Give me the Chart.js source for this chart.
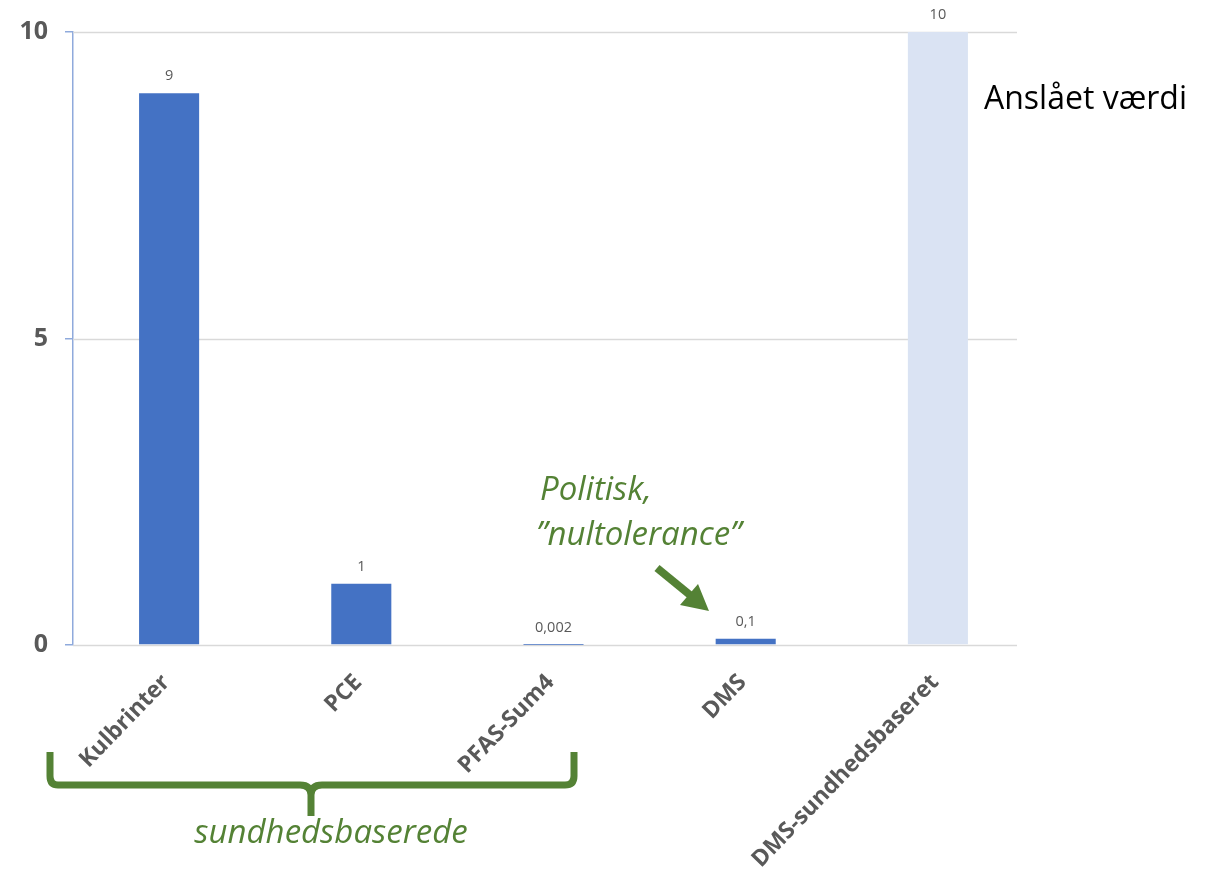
<!DOCTYPE html>
<html lang="da">
<head>
<meta charset="utf-8">
<title>Anslået værdi</title>
<script src="https://cdn.jsdelivr.net/npm/chart.js@4.4.1/dist/chart.umd.min.js"></script>
<style>
  html, body { margin: 0; padding: 0; background: #ffffff; }
  #wrap { position: relative; width: 1209px; height: 877px; }
</style>
</head>
<body>
<div id="wrap"><canvas id="chart" width="1209" height="877"></canvas></div>
<script>
// Kategorier og værdier
const categories = ['Kulbrinter', 'PCE', 'PFAS-Sum4', 'DMS', 'DMS-sundhedsbaseret'];
const values = [9, 1, 0.002, 0.1, 10];
const estimated = [false, false, false, false, true];
const yTicks = [0, 5, 10];

const FONT = '"Open Sans", "Liberation Sans", sans-serif';
const GREEN = '#548235';
const GREY_TEXT = '#595959';
const GRID = '#D9D9D9';
const AXIS_BLUE = '#8FAADC';

// Danske tal: komma som decimaltegn
const fmt = v => String(v).replace('.', ',');

// Vandrette hjælpelinjer, der stopper før det sidste felt
const gridPlugin = {
  id: 'shortGrid',
  beforeDatasetsDraw(chart) {
    const { ctx, chartArea, scales } = chart;
    const right = chartArea.left + 944;
    ctx.save();
    ctx.strokeStyle = GRID;
    ctx.lineWidth = 1.5;
    yTicks.forEach(t => {
      const y = Math.round(scales.y.getPixelForValue(t)) + 0.5;
      ctx.beginPath();
      ctx.moveTo(chartArea.left, y);
      ctx.lineTo(right, y);
      ctx.stroke();
    });
    ctx.restore();
  }
};

// Værdietiketter over søjlerne
const valueLabels = {
  id: 'valueLabels',
  afterDatasetsDraw(chart) {
    const { ctx } = chart;
    const meta = chart.getDatasetMeta(0);
    ctx.save();
    ctx.font = '14.5px ' + FONT;
    ctx.fillStyle = GREY_TEXT;
    ctx.textAlign = 'center';
    ctx.textBaseline = 'bottom';
    meta.data.forEach((bar, i) => {
      ctx.fillText(fmt(values[i]), bar.x, bar.y - 10);
    });
    ctx.restore();
  }
};

// Kommentarer: tuborgklamme, pil og tekster
const notes = {
  id: 'notes',
  afterDraw(chart) {
    const { ctx } = chart;
    ctx.save();

    // Forklaring til højre
    ctx.fillStyle = '#000000';
    ctx.font = '32px ' + FONT;
    ctx.textAlign = 'left';
    ctx.textBaseline = 'alphabetic';
    ctx.fillText('Anslået værdi', 984, 109);

    // Politisk nultolerance
    ctx.fillStyle = GREEN;
    ctx.font = 'italic 33px ' + FONT;
    ctx.fillText('Politisk,', 540, 500);
    ctx.fillText('\u201Dnultolerance\u201D', 536, 545);

    // Pil mod DMS
    ctx.strokeStyle = GREEN;
    ctx.lineWidth = 8;
    ctx.lineCap = 'butt';
    ctx.beginPath();
    ctx.moveTo(657, 568);
    ctx.lineTo(690, 595);
    ctx.stroke();
    ctx.beginPath();
    ctx.moveTo(709, 611);
    ctx.lineTo(680, 605);
    ctx.lineTo(698, 584);
    ctx.closePath();
    ctx.fill();

    // Tuborgklamme under de sundhedsbaserede stoffer
    ctx.lineWidth = 7;
    ctx.lineJoin = 'round';
    ctx.beginPath();
    ctx.moveTo(50, 752);
    ctx.lineTo(50, 776);
    ctx.quadraticCurveTo(50, 785, 58, 785);
    ctx.lineTo(300, 785);
    ctx.quadraticCurveTo(311, 785, 311, 795);
    ctx.lineTo(311, 816);
    ctx.moveTo(311, 795);
    ctx.quadraticCurveTo(311, 785, 322, 785);
    ctx.lineTo(565, 785);
    ctx.quadraticCurveTo(574, 785, 574, 776);
    ctx.lineTo(574, 752);
    ctx.stroke();

    ctx.font = 'italic 33px ' + FONT;
    ctx.textAlign = 'center';
    ctx.fillText('sundhedsbaserede', 331, 843);

    ctx.restore();
  }
};

new Chart(document.getElementById('chart'), {
  type: 'bar',
  data: {
    labels: categories,
    datasets: [{
      data: values,
      backgroundColor: estimated.map(e => e ? '#DAE3F3' : '#4472C4'),
      borderWidth: 0,
      categoryPercentage: 1,
      barPercentage: 0.3125
    }]
  },
  options: {
    responsive: false,
    animation: false,
    layout: { padding: { top: 32, right: 175, left: 0, bottom: 0 } },
    plugins: {
      legend: { display: false },
      tooltip: { enabled: false }
    },
    scales: {
      x: {
        afterFit(scale) { scale.height = 232; },
        grid: { display: false },
        border: { display: false },
        ticks: {
          minRotation: 46,
          maxRotation: 46,
          padding: 16,
          labelOffset: -3,
          color: GREY_TEXT,
          font: { family: FONT, size: 23, weight: 'bold' }
        }
      },
      y: {
        min: 0,
        max: 10,
        afterFit(scale) { scale.width = 73; },
        afterBuildTicks(scale) { scale.ticks = yTicks.map(v => ({ value: v })); },
        border: { display: true, color: AXIS_BLUE, width: 1.5 },
        grid: {
          drawOnChartArea: false,
          drawTicks: true,
          tickLength: 8,
          tickColor: AXIS_BLUE,
          lineWidth: 1.5
        },
        ticks: {
          padding: 17,
          color: GREY_TEXT,
          font: { family: FONT, size: 25, weight: 'bold' }
        }
      }
    }
  },
  plugins: [gridPlugin, valueLabels, notes]
});
</script>
</body>
</html>
